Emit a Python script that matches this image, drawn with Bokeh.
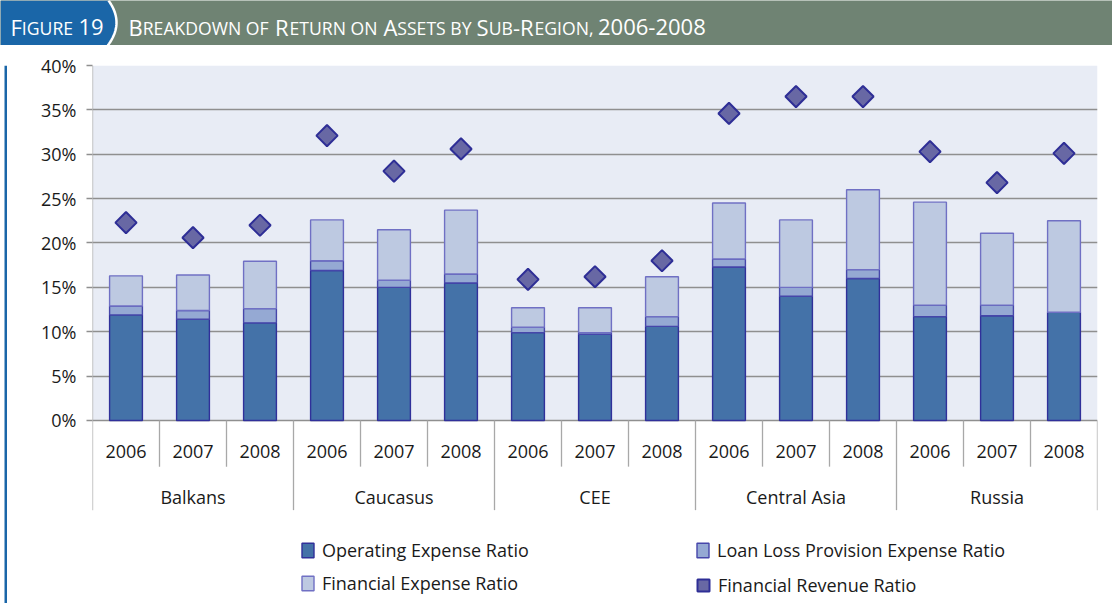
import math
import numpy as np
from bokeh.plotting import figure
from bokeh.models import (FactorRange, Range1d, FixedTicker, PrintfTickFormatter,
                          BoxAnnotation, ColumnDataSource, Legend, LegendItem)
from bokeh.layouts import column, row
from bokeh.core.properties import value
from bokeh.embed import file_html
from bokeh.resources import INLINE

# ---------------- data ----------------
regions = ["Balkans", "Caucasus", "CEE", "Central Asia", "Russia"]
years = ["2006", "2007", "2008"]
operating_expense = [11.9, 11.4, 11.0, 16.9, 15.0, 15.5, 9.9, 9.7, 10.6, 17.3, 14.0, 16.0, 11.7, 11.8, 12.2]
loan_loss_provision = [1.0, 1.0, 1.6, 1.1, 0.8, 1.0, 0.6, 0.2, 1.1, 0.9, 1.0, 1.0, 1.3, 1.2, 0.0]
financial_expense = [3.4, 4.0, 5.35, 4.6, 5.7, 7.2, 2.2, 2.8, 4.5, 6.3, 7.6, 9.0, 11.6, 8.1, 10.3]
financial_revenue = [22.3, 20.6, 22.0, 32.1, 28.1, 30.6, 15.9, 16.2, 18.0, 34.6, 36.5, 36.5, 30.3, 26.8, 30.1]
y_ticks = [0, 5, 10, 15, 20, 25, 30, 35, 40]
series_names = ["Operating Expense Ratio", "Loan Loss Provision Expense Ratio",
                "Financial Expense Ratio", "Financial Revenue Ratio"]
figure_label = "Figure 19"
title_text = "Breakdown of Return on Assets by Sub-Region, 2006-2008"

# ---------------- style ----------------
FONT = "Open Sans"
W = 1112
H_TITLE = 45
H_CHART = 603 - H_TITLE
STRIP = 7
BLUE = "#1a66a8"
BAR_GREEN = "#6f8373"
FILLS = ["#4472a8", "#95a9d3", "#bdc9e1"]
OUTLINES = ["#30309a", "#4646aa", "#7070c4"]
GRID = "#8f8f8f"
SEP = "#a8a8a8"
TXT = "#1a1a1a"

factors = [(r, y) for r in regions for y in years]
src = ColumnDataSource(dict(x=factors, op=operating_expense, llp=loan_loss_provision,
                            fin=financial_expense, rev=financial_revenue))

# ---------------- chart ----------------
YMIN = -20.62
p = figure(width=W - STRIP, height=H_CHART,
           x_range=FactorRange(*factors, factor_padding=0, group_padding=0, range_padding=0),
           y_range=Range1d(YMIN, 40),
           output_backend="svg", toolbar_location=None,
           x_axis_location=None,
           min_border_left=85, min_border_right=15, min_border_top=20, min_border_bottom=0)
p.background_fill_color = "white"
p.border_fill_color = "white"
p.outline_line_color = None

p.add_layout(BoxAnnotation(bottom=0, top=40, fill_color="#e8ecf5", fill_alpha=1,
                           line_color=None, level="image"))

ticker = FixedTicker(ticks=y_ticks)
p.yaxis.ticker = ticker
p.yaxis.formatter = PrintfTickFormatter(format="%d%%")
p.yaxis.axis_line_color = None
p.yaxis.major_tick_out = 6
p.yaxis.major_tick_in = 0
p.yaxis.minor_tick_line_color = None
p.yaxis.major_tick_line_color = GRID
p.yaxis.major_tick_line_width = 1.3
p.yaxis.major_label_standoff = 10
p.yaxis.major_label_text_font = FONT
p.yaxis.major_label_text_font_size = "18px"
p.yaxis.major_label_text_color = TXT
p.ygrid.ticker = ticker
p.ygrid.grid_line_color = GRID
p.ygrid.grid_line_width = 1.3
p.xgrid.grid_line_color = None

stack = p.vbar_stack(["op", "llp", "fin"], x="x", width=0.49, source=src,
                     fill_color=FILLS, line_color=OUTLINES, line_width=1.4)
marks = p.scatter("x", "rev", source=src, marker="square", angle=math.pi / 4, size=15,
                  fill_color="#6868a4", line_color="#2e2e96", line_width=2)

# category separators (Excel-style multi-level axis)
sx, sy0, sy1 = [], [], []
for r in regions:
    for yv in years[1:]:
        sx.append((r, yv, -0.5)); sy0.append(0); sy1.append(-5.2)
    sx.append((r, years[0], -0.5)); sy0.append(0); sy1.append(-10.1)
sx.append((regions[-1], years[-1], 0.5)); sy0.append(0); sy1.append(-10.1)
sx.append((regions[0], years[0], -0.5)); sy0.append(0); sy1.append(40)
p.segment(x0=sx, y0=sy0, x1=sx, y1=sy1, line_color=SEP, line_width=1.3)

# year labels and region labels
p.text(x=factors, y=[-3.5] * len(factors), text=[f[1] for f in factors],
       text_align="center", text_baseline="middle", text_font=value(FONT),
       text_font_size="18px", text_color=TXT)
p.text(x=[(r, years[1]) for r in regions], y=[-8.6] * len(regions), text=regions,
       text_align="center", text_baseline="middle", text_font=value(FONT),
       text_font_size="18px", text_color=TXT)

def make_legend(item, x, y, gw, gh, standoff):
    lg = Legend(items=[item], location=(x, y), orientation="vertical",
                padding=0, margin=0, spacing=0, label_standoff=standoff,
                glyph_width=gw, glyph_height=gh, label_height=20,
                label_text_font=FONT, label_text_font_size="18px",
                label_text_color=TXT, border_line_color=None,
                background_fill_alpha=0)
    p.add_layout(lg)

make_legend(LegendItem(label=series_names[0], renderers=[stack[0]]), 208, 41, 15, 18, 7)
make_legend(LegendItem(label=series_names[2], renderers=[stack[2]]), 208, 8, 15, 18, 7)
make_legend(LegendItem(label=series_names[1], renderers=[stack[1]]), 603, 41, 15, 18, 7)
make_legend(LegendItem(label=series_names[3], renderers=[marks]), 596, 3, 30, 30, -4)

# ---------------- left blue strip ----------------
s = figure(width=STRIP, height=H_CHART, output_backend="svg", toolbar_location=None,
           x_axis_location=None, y_axis_location=None, min_border=0,
           x_range=Range1d(0, STRIP), y_range=Range1d(0, 1))
s.background_fill_color = "white"
s.border_fill_color = "white"
s.outline_line_color = None
s.grid.visible = False
s.quad(left=[4], right=[6.5], bottom=[0], top=[1], fill_color=BLUE, line_color=None)

# ---------------- title bar ----------------
t = figure(width=W, height=H_TITLE, output_backend="svg", toolbar_location=None,
           x_axis_location=None, y_axis_location=None, min_border=0,
           x_range=Range1d(0, W), y_range=Range1d(H_TITLE, 0))
t.background_fill_color = BAR_GREEN
t.border_fill_color = BAR_GREEN
t.outline_line_color = None
t.grid.visible = False

cy = np.linspace(0, H_TITLE, 25)
cx = 108 + 8 * (1 - ((cy - 22) / 22.0) ** 2)
t.patch(x=np.concatenate([[0], cx, [0]]), y=np.concatenate([[0], cy, [H_TITLE]]),
        fill_color=BLUE, line_color=None)
t.line(x=cx, y=cy, line_color="white", line_width=2.5)

ADV = {"A": .633, "B": .648, "C": .631, "D": .729, "E": .556, "F": .516, "G": .728,
       "H": .738, "I": .279, "K": .633, "N": .760, "O": .781, "R": .656, "S": .549,
       "T": .569, "U": .734, "W": .952, "Y": .564, " ": .26, ",": .245, "-": .322}

def adv(c):
    return .572 if c.isdigit() else ADV.get(c, .6)

def small_caps(text, x0, big, small):
    """Runs of original capitals / digits -> big, lower-case -> small capitals."""
    runs = []
    for ch in text:
        is_big = not ch.islower()
        if ch == " " or ch == ",":
            is_big = False if (runs and not runs[-1][1]) else is_big
        if runs and runs[-1][1] == is_big:
            runs[-1][0] += ch.upper()
        else:
            runs.append([ch.upper(), is_big])
    xs, txt, sizes, offs = [], [], [], []
    x = x0
    for sstr, is_big in runs:
        fs = big if is_big else small
        lead = len(sstr) - len(sstr.lstrip(" "))
        if sstr.strip(" "):
            xs.append(x + lead * ADV[" "] * fs)
            txt.append(sstr.strip(" "))
            sizes.append(f"{fs}px")
            # keep a common cap baseline: small capitals sit lower when centred
            offs.append(0 if is_big else 0.357 * (big - small))
        x += sum(adv(c) for c in sstr) * fs
    return xs, txt, sizes, offs

for label, x0 in [(figure_label, 10), (title_text, 128)]:
    xs, txt, sizes, offs = small_caps(label, x0, 22, 17.6)
    tsrc = ColumnDataSource(dict(x=xs, y=[26 + o for o in offs], t=txt, fs=sizes))
    t.text(x="x", y="y", text="t", source=tsrc, text_font=value(FONT),
           text_font_size="fs", text_color="white", text_align="left",
           text_baseline="middle")

layout = column(t, row(s, p, spacing=0), spacing=0)
open("out.html", "w").write(file_html(layout, INLINE))
